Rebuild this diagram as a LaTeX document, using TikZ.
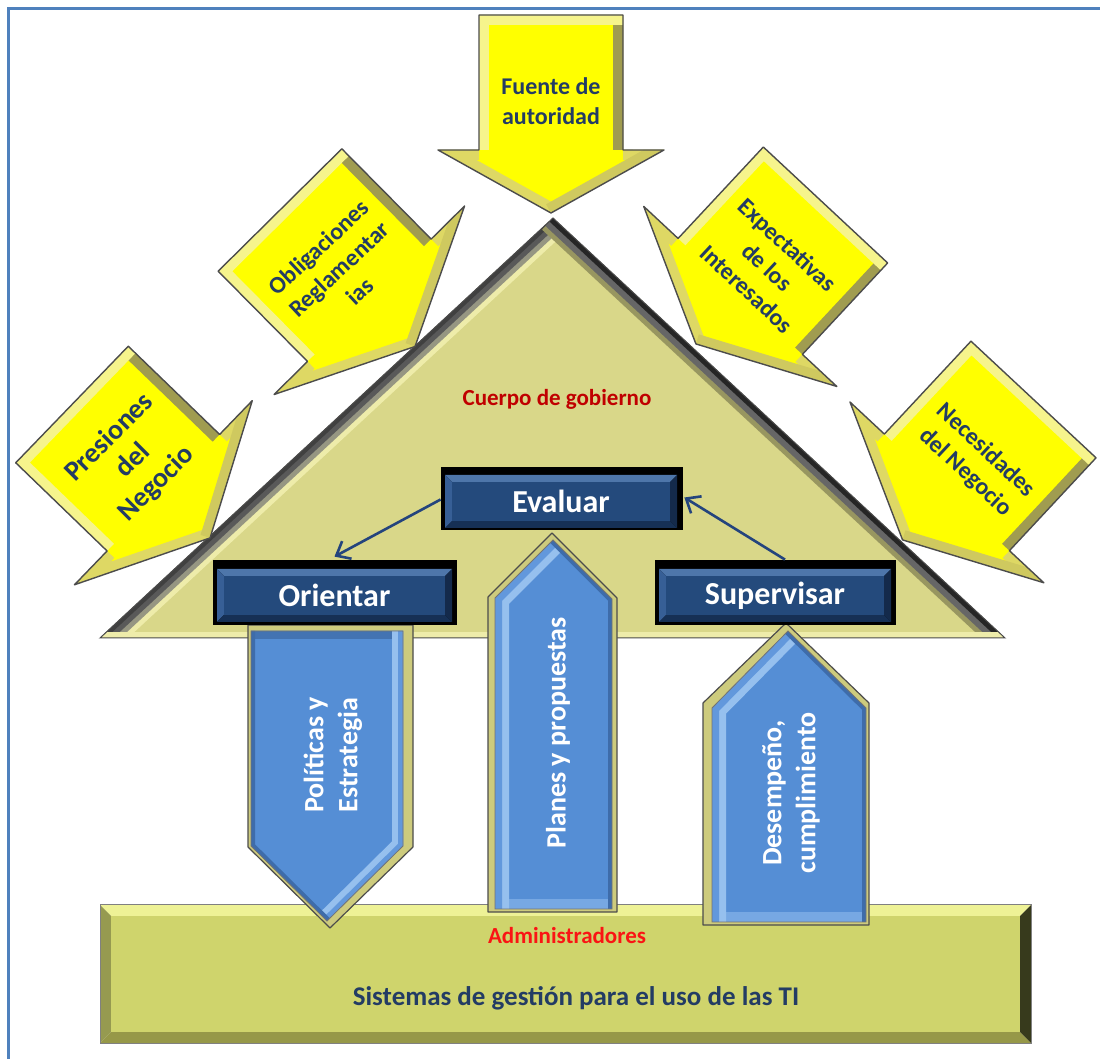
\documentclass[tikz,border=0pt]{standalone}
\usepackage{fontspec}
\setmainfont{Carlito}
\usetikzlibrary{calc,arrows.meta}

\definecolor{frameblue}{RGB}{79,129,189}
\definecolor{roofface}{RGB}{217,215,137}
\definecolor{roofhi}{RGB}{238,236,170}
\definecolor{roofmid}{RGB}{150,150,130}
\definecolor{yface}{RGB}{255,255,0}
\definecolor{yhi}{RGB}{246,244,140}
\definecolor{ymid}{RGB}{222,216,100}
\definecolor{ylow}{RGB}{160,156,80}
\definecolor{navytext}{RGB}{35,60,100}
\definecolor{bxtop}{RGB}{78,118,170}
\definecolor{bxleft}{RGB}{55,95,150}
\definecolor{bxbot}{RGB}{22,48,85}
\definecolor{bxright}{RGB}{20,42,75}
\definecolor{bxface}{RGB}{36,74,124}
\definecolor{bstop}{RGB}{238,242,150}
\definecolor{bsleft}{RGB}{150,154,80}
\definecolor{bsbot}{RGB}{150,152,72}
\definecolor{bsright}{RGB}{55,58,28}
\definecolor{bsface}{RGB}{207,212,108}
\definecolor{colside}{RGB}{205,203,125}
\definecolor{colface}{RGB}{85,142,213}
\definecolor{colhi}{RGB}{150,192,238}
\definecolor{colmid}{RGB}{98,152,220}
\definecolor{colshade}{RGB}{62,108,170}
\definecolor{linkblue}{RGB}{36,68,125}
\definecolor{roofred}{RGB}{192,0,0}
\definecolor{basered}{RGB}{250,20,20}

% bevelled rectangle: x1,y1,x2,y2, bevel width, colour prefix
\newcommand\bevelrect[6]{%
  \fill[#6top] (#1,#2) -- (#3,#2) -- ({#3-#5},{#2+#5}) -- ({#1+#5},{#2+#5}) -- cycle;
  \fill[#6left] (#1,#2) -- ({#1+#5},{#2+#5}) -- ({#1+#5},{#4-#5}) -- (#1,#4) -- cycle;
  \fill[#6bot] (#1,#4) -- ({#1+#5},{#4-#5}) -- ({#3-#5},{#4-#5}) -- (#3,#4) -- cycle;
  \fill[#6right] (#3,#2) -- (#3,#4) -- ({#3-#5},{#4-#5}) -- ({#3-#5},{#2+#5}) -- cycle;
  \fill[#6face] ({#1+#5},{#2+#5}) rectangle ({#3-#5},{#4-#5});
}

% bevelled block arrow: back centre x,y, heading, shaft width, shaft length, head width, head length
\newcommand\bevelarrow[7]{%
  \begin{scope}[shift={(#1,#2)},rotate={90-#3}]
    \coordinate (ab1) at ({-#4/2},0);
    \coordinate (ab2) at ({#4/2},0);
    \coordinate (as2) at ({#4/2},#5);
    \coordinate (aw2) at ({#6/2},#5);
    \coordinate (atip) at (0,{#5+#7});
    \coordinate (aw1) at ({-#6/2},#5);
    \coordinate (as1) at ({-#4/2},#5);
  \end{scope}
  \begin{scope}
    \clip (ab1)--(ab2)--(as2)--(aw2)--(atip)--(aw1)--(as1)--cycle;
    \fill[yface] (ab1)--(ab2)--(as2)--(aw2)--(atip)--(aw1)--(as1)--cycle;
    \draw[line width=10pt,ymid] (as1)--(aw1)--(atip);
    \draw[line width=10pt,ymid] (as2)--(aw2);
    \draw[line width=10pt,ymid!75!ylow] (aw2)--(atip);
    \draw[line width=10pt,ylow] (ab2)--(as2);
    \draw[line width=10pt,yhi] (as1)--(ab1)--(ab2);
  \end{scope}
  \draw[black!70,line width=0.7pt,line join=round]
    (ab1)--(ab2)--(as2)--(aw2)--(atip)--(aw1)--(as1)--cycle;
}

\begin{document}
\begin{tikzpicture}[x=0.5pt,y=-0.5pt,
  arrowtxt/.style={font=\bfseries\fontsize{12}{15}\selectfont,text=navytext,align=center,inner sep=0pt},
  bigtxt/.style={font=\bfseries\fontsize{14}{16.5}\selectfont},
  coltxt/.style={font=\bfseries\fontsize{14}{17}\selectfont,text=white,align=center,inner sep=0pt},
  boxtxt/.style={font=\bfseries\fontsize{16}{19}\selectfont,text=white,inner sep=0pt},
  link/.style={draw=linkblue,line width=1.3pt,-{Straight Barb[length=6pt,width=10pt]}},
  edge/.style={draw=black!70,line width=0.6pt,line join=round}]

\useasboundingbox (0,0) rectangle (1100,1059);
\fill[white] (0,0) rectangle (1100,1059);

% frame
\draw[frameblue,line width=1.5pt] (8,1059) -- (8,9) -- (1100,9);

% roof
\coordinate (apex) at (553,218);
\coordinate (eaveL) at (100,638);
\coordinate (eaveR) at (1005,638);
\begin{scope}
  \clip (apex)--(eaveL)--(eaveR)--cycle;
  \fill[roofface] (apex)--(eaveL)--(eaveR)--cycle;
  \draw[line width=19pt,roofhi] (eaveL)--(apex);
  \draw[line width=14pt,roofmid] (eaveL)--(apex);
  \draw[line width=9pt,gray!70!black] (eaveL)--(apex);
  \draw[line width=4pt,black!75] (eaveL)--(apex);
  \draw[line width=16pt,roofface!70!black] (apex)--(eaveR);
  \draw[line width=11pt,black!60] (apex)--(eaveR);
  \draw[line width=5pt,black!85] (apex)--(eaveR);
  \draw[line width=6pt,roofhi] (eaveL)--(eaveR);
\end{scope}
\draw[gray!60!black,line width=0.5pt] (apex)--(eaveL)--(eaveR)--cycle;

% incoming block arrows
\bevelarrow{551}{15}{90}{144}{135}{226}{63}
\node[arrowtxt] (fuente) at (551,101) {Fuente de\\autoridad};
\bevelarrow{72}{404.5}{44}{162}{127}{256}{65}
\node[arrowtxt,bigtxt,rotate=45] (presiones) at (133,461) {Presiones\\del\\Negocio};
\bevelarrow{280}{210}{45.3}{174}{127}{268}{65}
\node[arrowtxt,rotate=43] (obligaciones) at (339,269) {Obligaciones\\Reglamentar\\ias};
\bevelarrow{825.5}{205}{133}{170}{125}{264}{65}
\node[arrowtxt,rotate=-43] (expectativas) at (767.5,267) {Expectativas\\de los\\Interesados};
\bevelarrow{1033.5}{399.5}{133}{171}{127}{265}{65}
\node[arrowtxt,rotate=-43] (necesidades) at (975.5,461.5) {Necesidades\\del Negocio};

% base block
\bevelrect{100}{905}{1031}{1043}{11}{bs}
\draw[black!50,line width=0.5pt] (100,905) rectangle (1031,1043);

% column: policies (pointing down)
\fill[colside] (248,625)--(413,625)--(413,847)--(330,928)--(248,847)--cycle;
\begin{scope}
  \clip (251,631)--(403,631)--(403,846)--(327,921)--(251,846)--cycle;
  \fill[colface] (251,631)--(403,631)--(403,846)--(327,921)--(251,846)--cycle;
  \draw[line width=8pt,colshade!80!colface] (251,631)--(403,631);
  \draw[line width=11pt,colhi] (403,631)--(403,846)--(327,921);
  \draw[line width=5pt,colmid] (403,631)--(403,846)--(327,921);
  \draw[line width=4pt,colshade] (251,631)--(251,846)--(327,921);
\end{scope}
\draw[black!55,line width=0.4pt] (251,631)--(403,631)--(403,846)--(327,921)--(251,846)--cycle;
\draw[edge] (248,625)--(413,625)--(413,847)--(330,928)--(248,847)--cycle;

% column: plans (pointing up)
\fill[colside] (488,912)--(488,597)--(552,533)--(617,598)--(617,912)--cycle;
\begin{scope}
  \clip (495,909)--(495,598)--(553,540)--(612,599)--(612,909)--cycle;
  \fill[colface] (495,909)--(495,598)--(553,540)--(612,599)--(612,909)--cycle;
  \draw[line width=10pt,colmid!60!colhi] (495,909)--(612,909);
  \draw[line width=14pt,colhi] (495,909)--(495,598)--(553,540);
  \draw[line width=7pt,colmid] (495,909)--(495,598)--(553,540);
  \draw[line width=4pt,colshade] (553,540)--(612,599)--(612,909);
\end{scope}
\draw[black!55,line width=0.4pt] (495,909)--(495,598)--(553,540)--(612,599)--(612,909)--cycle;
\draw[edge] (488,912)--(488,597)--(552,533)--(617,598)--(617,912)--cycle;

% column: performance (pointing up)
\fill[colside] (703,925)--(703,703)--(786,623)--(869,703)--(869,925)--cycle;
\begin{scope}
  \clip (712,922)--(712,708)--(788,631)--(866,708)--(866,922)--cycle;
  \fill[colface] (712,922)--(712,708)--(788,631)--(866,708)--(866,922)--cycle;
  \draw[line width=10pt,colmid!60!colhi] (712,922)--(866,922);
  \draw[line width=14pt,colhi] (712,922)--(712,708)--(788,631);
  \draw[line width=7pt,colmid] (712,922)--(712,708)--(788,631);
  \draw[line width=4pt,colshade] (788,631)--(866,708)--(866,922);
\end{scope}
\draw[black!55,line width=0.4pt] (712,922)--(712,708)--(788,631)--(866,708)--(866,922)--cycle;
\draw[edge] (703,925)--(703,703)--(786,623)--(869,703)--(869,925)--cycle;

\node[coltxt,rotate=90] (politicas) at (333,755) {Políticas y\\Estrategia};
\node[coltxt,rotate=90] (planes) at (558,733) {Planes y propuestas};
\node[coltxt,rotate=90] (desempeno) at (791,793) {Desempeño,\\cumplimiento};

% governance boxes
\fill[black] (441,467) rectangle (683,530);
\bevelrect{445}{475}{677}{528}{7}{bx}
\fill[black] (213,560) rectangle (457,625);
\bevelrect{217}{569}{452}{622}{7}{bx}
\fill[black] (655,560) rectangle (896,625);
\bevelrect{659}{569}{891}{622}{7}{bx}

\node[boxtxt,minimum width=116pt,minimum height=26.5pt] (evaluar) at (561,501.5) {Evaluar};
\node[boxtxt,minimum width=117.5pt,minimum height=26.5pt] (orientar) at (334.5,595.5) {Orientar};
\node[boxtxt,minimum width=116pt,minimum height=26.5pt] (supervisar) at (775,595.5) {Supervisar};

\draw[link] ($(evaluar.west)+(-4,-2)$) -- ($(orientar.north)+(0,-12)$);
\draw[link] ($(supervisar.north)+(10,-9)$) -- ($(evaluar.east)+(7,-4)$);

% labels
\node[font=\bfseries\fontsize{11.5}{14}\selectfont,text=roofred] (cuerpo) at (557,399) {Cuerpo de gobierno};
\node[font=\bfseries\fontsize{11.5}{14}\selectfont,text=basered] (admin) at (567,936) {Administradores};
\node[font=\bfseries\fontsize{13.5}{16}\selectfont,text=navytext] (sistemas) at (576,998) {Sistemas de gestión para el uso de las TI};

\end{tikzpicture}
\end{document}
